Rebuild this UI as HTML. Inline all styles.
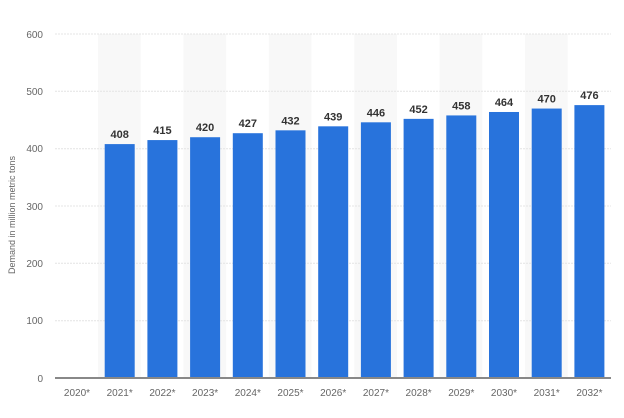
<!DOCTYPE html>
<html><head><style>
body{margin:0;background:#fff;}
svg text{font-family:"Liberation Sans",sans-serif;}
</style></head><body>
<svg width="624" height="413" xmlns="http://www.w3.org/2000/svg">
<rect width="624" height="413" fill="#fff"/>
<g fill="#f8f8f8">
<rect x="98" y="34" width="42.7" height="344"/>
<rect x="183.4" y="34" width="42.7" height="344"/>
<rect x="268.8" y="34" width="42.7" height="344"/>
<rect x="354.2" y="34" width="42.7" height="344"/>
<rect x="439.6" y="34" width="42.7" height="344"/>
<rect x="525" y="34" width="42.7" height="344"/>
</g>
<g stroke="#e4e4e4" stroke-width="1" stroke-dasharray="2,1">
<line x1="55" x2="611" y1="34" y2="34"/>
<line x1="55" x2="611" y1="91.3" y2="91.3"/>
<line x1="55" x2="611" y1="148.7" y2="148.7"/>
<line x1="55" x2="611" y1="206" y2="206"/>
<line x1="55" x2="611" y1="263.3" y2="263.3"/>
<line x1="55" x2="611" y1="320.7" y2="320.7"/>
</g>
<g font-size="10" fill="#666" text-anchor="end">
<text x="43" y="38">600</text><text x="43" y="95">500</text><text x="43" y="152">400</text>
<text x="43" y="210">300</text><text x="43" y="267">200</text><text x="43" y="324">100</text>
<text x="43" y="382">0</text>
</g>
<text transform="translate(15,215) rotate(-90)" font-size="9" fill="#666" text-anchor="middle">Demand in million metric tons</text>
<g id="bars" fill="#2873dc"></g>
<line x1="55" x2="611" y1="378" y2="378" stroke="#888" stroke-width="2"/>
<g id="lbl"></g>
<script>
var v=[408,415,420,427,432,439,446,452,458,464,470,476];
var b=document.getElementById('bars'),l=document.getElementById('lbl'),ns='http://www.w3.org/2000/svg';
for(var i=0;i<13;i++){var cx=77+i*42.7;
 var t=document.createElementNS(ns,'text');t.setAttribute('x',cx);t.setAttribute('y',396);t.setAttribute('font-size','10');t.setAttribute('fill','#666');t.setAttribute('text-anchor','middle');t.textContent=(2020+i)+'*';l.appendChild(t);
 if(i>0){var val=v[i-1],y=378-val*0.5733;
  var r=document.createElementNS(ns,'rect');r.setAttribute('x',cx-15);r.setAttribute('y',y);r.setAttribute('width',30);r.setAttribute('height',378-y);b.appendChild(r);
  var s=document.createElementNS(ns,'text');s.setAttribute('x',cx);s.setAttribute('y',y-6);s.setAttribute('font-size','11');s.setAttribute('font-weight','bold');s.setAttribute('fill','#333');s.setAttribute('text-anchor','middle');s.textContent=val;l.appendChild(s);}
}
</script>
</svg>
</body></html>
